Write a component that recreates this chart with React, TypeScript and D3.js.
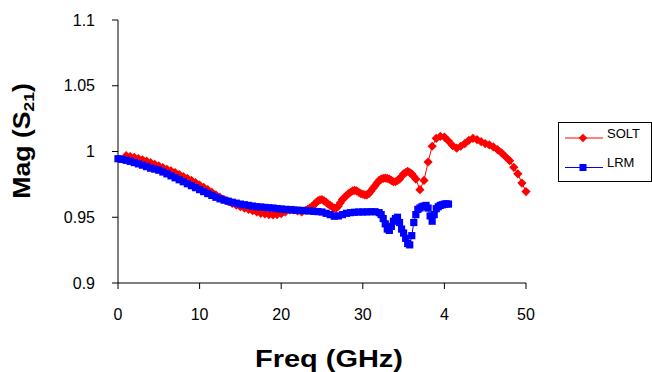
import React from "react";
import * as d3 from "d3";

const xTickValues = [0, 10, 20, 30, 40, 50];
const xTickLabels = ["0", "10", "20", "30", "4", "50"];
const yTickValues = [0.9, 0.95, 1, 1.05, 1.1];
const yTickLabels = ["0.9", "0.95", "1", "1.05", "1.1"];

const soltFreq = [
  1, 1.5, 2, 2.5, 3, 3.5, 4, 4.5, 5, 5.5, 6, 6.5, 7, 7.5, 8, 8.5, 9, 9.5, 10, 10.5,
  11, 11.5, 12, 12.5, 13, 13.5, 14, 14.5, 15, 15.5, 16, 16.5, 17, 17.5, 18, 18.5, 19, 19.5, 20, 20.5,
  21, 21.5, 22, 22.5,
  23, 23.25, 23.5, 23.75, 24, 24.25, 24.5, 24.75, 25, 25.25, 25.5, 25.75, 26, 26.25, 26.5, 26.75,
  27, 27.25, 27.5, 27.75, 28, 28.25, 28.5, 28.75, 29, 29.25, 29.5, 29.75, 30, 30.25, 30.5, 30.75,
  31, 31.25, 31.5, 31.75, 32, 32.25, 32.5, 32.75, 33, 33.25, 33.5, 33.75, 34, 34.25, 34.5, 34.75,
  35, 35.25, 35.5, 35.75, 36, 36.25, 36.5,
  37, 37.5, 38, 38.5, 39, 39.5, 40, 40.5,
  41, 41.5, 42, 42.5, 43, 43.5, 44, 44.5, 45, 45.5, 46, 46.5, 47, 47.5, 48, 48.5, 49, 49.5, 50,
];
const soltMag = [
  0.9968, 0.9962, 0.9955, 0.9946, 0.9937, 0.9927, 0.9915, 0.9903, 0.989, 0.9878, 0.9865, 0.9853, 0.984, 0.9825, 0.981, 0.9795, 0.978, 0.9763, 0.9745, 0.9728,
  0.971, 0.969, 0.967, 0.9652, 0.9635, 0.962, 0.9605, 0.9592, 0.958, 0.957, 0.956, 0.955, 0.954, 0.953, 0.9525, 0.952, 0.9518, 0.952, 0.9527, 0.954,
  0.9555, 0.9555, 0.9548, 0.954,
  0.9552, 0.956, 0.957, 0.958, 0.9595, 0.961, 0.9625, 0.9632, 0.9635, 0.9625, 0.9615, 0.96, 0.959, 0.958, 0.957, 0.957,
  0.9585, 0.961, 0.9635, 0.965, 0.9665, 0.968, 0.969, 0.97, 0.9705, 0.97, 0.969, 0.968, 0.9675, 0.967, 0.967, 0.968,
  0.97, 0.972, 0.974, 0.976, 0.978, 0.979, 0.9795, 0.9798, 0.9795, 0.979, 0.978, 0.977, 0.977, 0.978, 0.979, 0.981,
  0.983, 0.984, 0.985, 0.984, 0.983, 0.981, 0.979,
  0.971, 0.978, 0.992, 1.004, 1.01, 1.0115, 1.011, 1.008,
  1.0045, 1.0025, 1.004, 1.006, 1.0085, 1.01, 1.009, 1.0075, 1.006, 1.005, 1.0035, 1.0015, 0.999, 0.996, 0.993, 0.988, 0.983, 0.976, 0.9695,
];

const lrmFreq = [
  0, 0.5, 1, 1.5, 2, 2.5, 3, 3.5, 4, 4.5, 5, 5.5, 6, 6.5, 7, 7.5, 8, 8.5, 9, 9.5,
  10, 10.5, 11, 11.5, 12, 12.5, 13, 13.5, 14, 14.5, 15, 15.5, 16, 16.5, 17, 17.5, 18, 18.5, 19, 19.5,
  20, 20.5, 21, 21.5, 22, 22.5, 23, 23.5, 24, 24.5, 25, 25.5, 26, 26.5, 27, 27.5, 28, 28.5, 29, 29.5,
  30, 30.5, 31, 31.5,
  32, 32.25, 32.5, 32.75, 33, 33.25, 33.5, 33.75, 34, 34.25, 34.5, 34.75, 35, 35.25, 35.5, 35.75,
  36, 36.25, 36.5, 36.75, 37, 37.25, 37.5, 37.75, 38, 38.25, 38.5, 38.75, 39, 39.25, 39.5, 39.75,
  40, 40.25, 40.5,
];
const lrmMag = [
  0.9945, 0.994, 0.9933, 0.9925, 0.9916, 0.9906, 0.9896, 0.9885, 0.9873, 0.9866, 0.9858, 0.9844, 0.983, 0.9815, 0.98, 0.9785, 0.977, 0.9755, 0.974, 0.9725,
  0.971, 0.9695, 0.968, 0.9666, 0.9652, 0.964, 0.963, 0.9622, 0.9614, 0.9607, 0.96, 0.9595, 0.959, 0.9585, 0.958, 0.9578, 0.9575, 0.9572, 0.957, 0.9566,
  0.9563, 0.956, 0.9558, 0.9555, 0.9553, 0.9552, 0.955, 0.9548, 0.9545, 0.9543, 0.954, 0.953, 0.952, 0.9508, 0.951, 0.952, 0.953, 0.9535, 0.9538, 0.954,
  0.954, 0.9541, 0.9542, 0.9542,
  0.9535, 0.952, 0.949, 0.945, 0.941, 0.94, 0.943, 0.947, 0.949, 0.95, 0.946, 0.941, 0.938, 0.934, 0.93, 0.929,
  0.936, 0.946, 0.952, 0.956, 0.957, 0.958, 0.9585, 0.959, 0.957, 0.951, 0.947, 0.952, 0.9565, 0.958, 0.959, 0.9595,
  0.96, 0.9602, 0.96,
];

const FONT = "Arial, 'Liberation Sans', sans-serif";

export default function App() {
  const x = d3.scaleLinear().domain([0, 50]).range([118, 526]);
  const y = d3.scaleLinear().domain([0.9, 1.1]).range([283, 20]);

  const solt = soltFreq.map((f, i) => [f, soltMag[i]] as [number, number]);
  const lrm = lrmFreq.map((f, i) => [f, lrmMag[i]] as [number, number]);
  const line = d3
    .line<[number, number]>()
    .x((d) => x(d[0]))
    .y((d) => y(d[1]));

  const diamond = (cx: number, cy: number, r: number) =>
    `M${cx},${cy - r}L${cx + r},${cy}L${cx},${cy + r}L${cx - r},${cy}Z`;

  return (
    <svg width={652} height={372} style={{ position: "absolute", left: 0, top: 0, background: "#fff" }}>
      <rect x={0} y={0} width={652} height={372} fill="#fff" />
      {/* axes */}
      <line x1={118} x2={118} y1={y(1.1)} y2={y(0.9)} stroke="#000" strokeWidth={1} />
      <line x1={118} x2={x(50)} y1={283} y2={283} stroke="#000" strokeWidth={1} />
      {yTickValues.map((v, i) => (
        <g key={"y" + i}>
          <line x1={112} x2={118} y1={y(v)} y2={y(v)} stroke="#000" />
          <text x={95} y={y(v) + 5.5} textAnchor="end" fontFamily={FONT} fontSize={16} fill="#000">
            {yTickLabels[i]}
          </text>
        </g>
      ))}
      {xTickValues.map((v, i) => (
        <g key={"x" + i}>
          <line x1={x(v)} x2={x(v)} y1={283} y2={289} stroke="#000" />
          <text x={x(v)} y={320} textAnchor="middle" fontFamily={FONT} fontSize={16} fill="#000">
            {xTickLabels[i]}
          </text>
        </g>
      ))}
      {/* titles */}
      <text
        x={329}
        y={367}
        textAnchor="middle"
        fontFamily={FONT}
        fontSize={23}
        fontWeight="bold"
        textLength={148}
        lengthAdjust="spacingAndGlyphs"
      >
        Freq (GHz)
      </text>
      <g transform="translate(30,141) rotate(-90) scale(1.16,1)">
        <text x={0} y={0} textAnchor="middle" fontFamily={FONT} fontSize={23} fontWeight="bold">
          Mag (S<tspan fontSize={15} dy={4}>21</tspan>
          <tspan dy={-4}>)</tspan>
        </text>
      </g>
      {/* SOLT */}
      <path d={line(solt) || ""} fill="none" stroke="#ff0000" strokeWidth={1} />
      {solt.map((d, i) => (
        <path key={"s" + i} d={diamond(x(d[0]), y(d[1]), 4.6)} fill="#ff0000" />
      ))}
      {/* LRM */}
      <path d={line(lrm) || ""} fill="none" stroke="#0000ff" strokeWidth={1} />
      {lrm.map((d, i) => (
        <rect key={"l" + i} x={x(d[0]) - 3.6} y={y(d[1]) - 3.6} width={7.2} height={7.2} fill="#0000ff" />
      ))}
      {/* legend */}
      <rect x={558.5} y={122.5} width={93} height={59} fill="#fff" stroke="#000" strokeWidth={1} />
      <line x1={565} x2={603} y1={138} y2={138} stroke="#ff0000" />
      <path d={diamond(583, 138, 4.3)} fill="#ff0000" />
      <text x={607} y={138} fontFamily={FONT} fontSize={13}>SOLT</text>
      <line x1={565} x2={603} y1={167.5} y2={167.5} stroke="#0000ff" />
      <rect x={579.5} y={164} width={7} height={7} fill="#0000ff" />
      <text x={607} y={167} fontFamily={FONT} fontSize={13}>LRM</text>
    </svg>
  );
}
